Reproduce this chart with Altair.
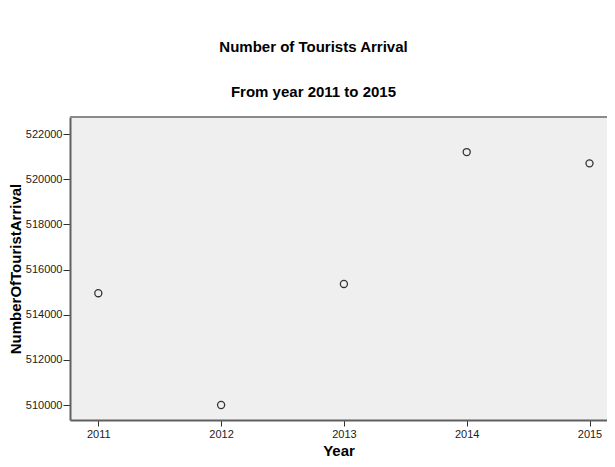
import altair as alt
import pandas as pd

years = [2011, 2012, 2013, 2014, 2015]
arrivals = [514950, 510000, 515360, 521200, 520700]
y_ticks = [510000, 512000, 514000, 516000, 518000, 520000, 522000]
x_ticks = [2011, 2012, 2013, 2014, 2015]

df = pd.DataFrame({"Year": years, "NumberOfTouristArrival": arrivals})

FONT = "Liberation Sans"

points = alt.Chart(df).mark_point(
    shape="circle", filled=False, color="#333333", size=50, strokeWidth=1.3, opacity=1
).encode(
    x=alt.X("Year:Q",
            scale=alt.Scale(domain=[2010.7695, 2015.1425], nice=False, zero=False),
            axis=alt.Axis(values=x_ticks, format="d", title="Year", grid=False,
                          tickSize=6, labelPadding=2, titlePadding=4,
                          domainColor="#606060", domainWidth=2, tickColor="#303030")),
    y=alt.Y("NumberOfTouristArrival:Q",
            scale=alt.Scale(domain=[509336, 522753], nice=False, zero=False),
            axis=alt.Axis(values=y_ticks, format="d", title="NumberOfTouristArrival",
                          grid=False, tickSize=7, labelPadding=1, titlePadding=2,
                          domainColor="#606060", domainWidth=2, tickColor="#303030")),
)

top_border = alt.Chart(df).mark_rule(color="#8a8a8a", strokeWidth=2).encode(
    y=alt.value(0)
)

chart = alt.layer(top_border, points).properties(
    width=537,
    height=303,
    padding={"left": 62, "top": 109, "right": 0, "bottom": 39},
    autosize=alt.AutoSizeParams(type="none"),
    title=alt.TitleParams(
        text="Number of Tourists Arrival",
        subtitle="From year 2011 to 2015",
        font=FONT, fontSize=15, fontWeight="bold", color="#000000",
        subtitleFont=FONT, subtitleFontSize=15, subtitleFontWeight="bold",
        subtitleColor="#000000", subtitlePadding=30, offset=16,
        anchor="middle", dx=-25,
    ),
).configure_view(
    stroke=None, fill="#EFEFEF"
).configure_axis(
    labelFont=FONT, labelFontSize=11, labelColor="#222222",
    titleFont=FONT, titleFontSize=15, titleFontWeight="bold", titleColor="#000000",
)

chart.save("out.html", embed_options={"renderer": "svg", "actions": False})
